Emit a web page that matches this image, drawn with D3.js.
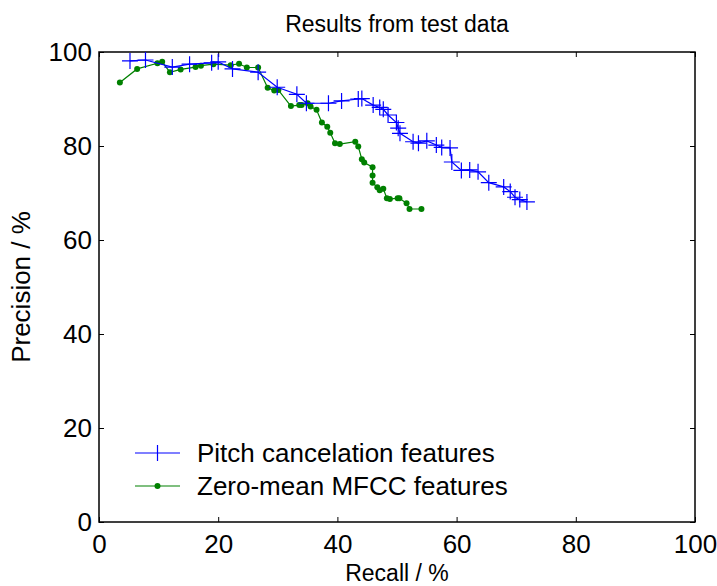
<!DOCTYPE html>
<html><head><meta charset="utf-8">
<script src="https://cdn.jsdelivr.net/npm/d3@7"></script>
<style>body{margin:0;background:#fff;} text{font-family:"Liberation Sans",Arial,sans-serif;}</style>
</head><body><svg id="c" width="717" height="586"></svg>
<script>
const title = "Results from test data";
const xLabel = "Recall / %";
const yLabel = "Precision / %";
const xTicks = [0,20,40,60,80,100];
const yTicks = [0,20,40,60,80,100];
const seriesNames = ["Pitch cancelation features","Zero-mean MFCC features"];
const seriesColors = ["#0000ff","#008000"];
const pitchRecall = [5.2,7.8,12.3,15.2,18.9,20.0,22.4,26.7,29.9,33.2,34.8,38.5,40.7,43.5,44.1,46.0,47.1,47.7,48.5,49.9,50.2,50.5,52.7,53.6,55.0,56.6,57.5,58.9,59.2,60.8,62.2,63.6,65.4,67.9,69.0,69.8,70.6,71.8];
const pitchPrecision = [98.1,98.3,96.8,97.4,97.7,97.9,96.4,95.7,92.5,91.0,89.1,89.1,89.6,90.0,90.1,88.7,88.2,87.8,86.6,85.0,83.8,82.7,80.9,80.6,81.1,80.2,79.7,79.6,76.6,74.8,74.9,74.5,72.2,71.3,70.3,69.1,68.6,68.1];
const mfccRecall = [3.5,6.4,9.8,10.6,11.9,13.7,16.2,17.1,19.2,22.1,23.5,24.8,26.7,28.3,29.4,30.1,32.2,33.6,34.0,35.0,35.5,36.5,37.4,38.3,38.8,39.6,40.4,43.0,43.5,44.1,44.5,45.9,45.9,45.9,46.7,47.1,47.7,48.3,48.8,50.1,50.4,51.6,52.1,54.1];
const mfccPrecision = [93.5,96.4,97.6,97.9,95.7,96.3,96.8,97.1,97.4,97.2,97.5,96.7,96.7,92.4,91.8,91.9,88.5,88.7,88.7,89.1,88.4,87.7,85.0,84.1,82.8,80.6,80.4,80.9,79.9,77.2,76.5,75.5,73.7,72.2,71.2,70.6,70.9,68.9,68.7,68.9,68.9,67.8,66.6,66.6];

const svg = d3.select("#c");
const L=99, R=695, T=52, B=522;
const x = d3.scaleLinear().domain([0,100]).range([L,R]);
const y = d3.scaleLinear().domain([0,100]).range([B,T]);

svg.append("rect").attr("x",L).attr("y",T).attr("width",R-L).attr("height",B-T)
  .attr("fill","none").attr("stroke","#000").attr("stroke-width",1.5);

const fs = 26;
const xa = svg.append("g").attr("transform",`translate(0,${B})`)
  .call(d3.axisBottom(x).tickValues(xTicks).tickSize(-5).tickPadding(13).tickFormat(d3.format("d")));
const xt = svg.append("g").attr("transform",`translate(0,${T})`)
  .call(d3.axisTop(x).tickValues(xTicks).tickSize(-5).tickFormat(""));
const ya = svg.append("g").attr("transform",`translate(${L},0)`)
  .call(d3.axisLeft(y).tickValues(yTicks).tickSize(-5).tickPadding(7).tickFormat(d3.format("d")));
const yr = svg.append("g").attr("transform",`translate(${R},0)`)
  .call(d3.axisRight(y).tickValues(yTicks).tickSize(-5).tickFormat(""));
[xa,xt,ya,yr].forEach(g=>{
  g.select(".domain").remove();
  g.selectAll(".tick line").attr("stroke","#000");
  g.selectAll("text").attr("font-size",fs).attr("fill","#000").style("font-family","Liberation Sans, Arial, sans-serif");
});

svg.append("text").attr("x",(L+R)/2).attr("y",32).attr("text-anchor","middle")
  .attr("font-size",23).text(title);
svg.append("text").attr("x",(L+R)/2).attr("y",581).attr("text-anchor","middle")
  .attr("font-size",23).text(xLabel);
svg.append("text").attr("transform",`translate(30,${(T+B)/2}) rotate(-90)`).attr("text-anchor","middle")
  .attr("font-size",fs).text(yLabel);

const line = d3.line().x(d=>x(d[0])).y(d=>y(d[1]));
const pitch = pitchRecall.map((r,i)=>[r,pitchPrecision[i]]);
const mfcc = mfccRecall.map((r,i)=>[r,mfccPrecision[i]]);

svg.append("path").datum(mfcc).attr("d",line).attr("fill","none").attr("stroke",seriesColors[1]).attr("stroke-width",1.2);
svg.append("g").selectAll("circle").data(mfcc).join("circle")
  .attr("cx",d=>x(d[0])).attr("cy",d=>y(d[1])).attr("r",3).attr("fill",seriesColors[1]);

svg.append("path").datum(pitch).attr("d",line).attr("fill","none").attr("stroke",seriesColors[0]).attr("stroke-width",1.2);
const m = 8;
svg.append("g").selectAll("path").data(pitch).join("path")
  .attr("d",d=>`M${x(d[0])-m},${y(d[1])}H${x(d[0])+m}M${x(d[0])},${y(d[1])-m}V${y(d[1])+m}`)
  .attr("stroke",seriesColors[0]).attr("stroke-width",1.2).attr("fill","none");

const lg = svg.append("g");
const ly = [453,486];
seriesNames.forEach((n,i)=>{
  lg.append("line").attr("x1",135).attr("x2",180).attr("y1",ly[i]).attr("y2",ly[i]).attr("stroke",seriesColors[i]).attr("stroke-width",1.2);
  if(i===0){
    lg.append("line").attr("x1",157.5).attr("x2",157.5).attr("y1",ly[i]-8).attr("y2",ly[i]+8).attr("stroke",seriesColors[i]).attr("stroke-width",1.2);
  } else {
    lg.append("circle").attr("cx",157.5).attr("cy",ly[i]).attr("r",3).attr("fill",seriesColors[i]);
  }
  lg.append("text").attr("x",197).attr("y",ly[i]+9).attr("font-size",fs).text(n);
});
</script></body></html>
